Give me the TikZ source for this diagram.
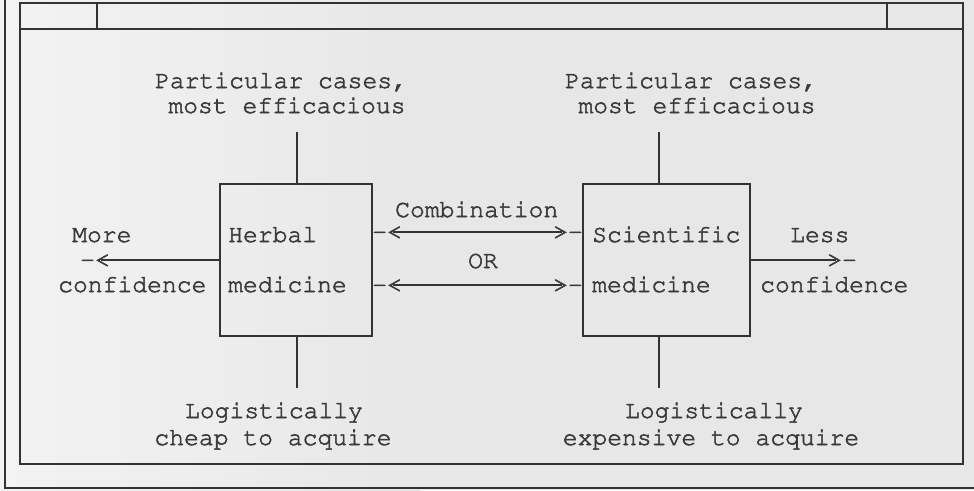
\documentclass[tikz,border=0pt]{standalone}
\usepackage[T1]{fontenc}
\newcommand{\courfont}{\fontencoding{T1}\fontfamily{pcr}\fontseries{m}\fontshape{n}\fontsize{24.7}{25}\selectfont\special{pdf:literal direct 2 Tr 0.55 w}}
\definecolor{ink}{HTML}{333333}
\definecolor{txt}{HTML}{3A3A3A}
\definecolor{paper}{HTML}{E7E7E7}
\definecolor{paperlight}{HTML}{F3F3F3}
\begin{document}
\begin{tikzpicture}[x=1pt,y=-1pt,
  frame/.style={draw=ink, line width=1.6pt},
  box/.style={draw=ink, line width=1.6pt, rectangle, inner sep=0pt},
  lbl/.style={inner sep=0pt, text=txt, font=\courfont},
  tipmark/.style={lbl, text height=14.6pt, text depth=0pt},
  conn/.style={draw=ink, line width=1.4pt},
  stem/.style={draw=ink, line width=1.4pt}
]
\useasboundingbox (0,0) rectangle (974,490);
\shade[left color=paperlight, right color=paper] (0,0) rectangle (420,490);
\fill[paper] (420,0) rectangle (974,490);

% frame
\draw[frame] (20,3) rectangle (963,464);
\draw[frame] (20,29) -- (963,29);
\draw[frame] (97,3) -- (97,29);
\draw[frame] (887,3) -- (887,29);
\draw[frame] (5,0) -- (5,488) -- (974,488);

% boxes
\node[box, minimum width=152pt, minimum height=152pt] (herbal) at (296,260) {};
\node[box, minimum width=167pt, minimum height=152pt] (sci) at (666.5,260) {};

% box texts
\node[lbl, anchor=base west] (h1) at (228,242) {Herbal};
\node[lbl, anchor=base west] (h2) at (228,292) {medicine};
\node[lbl, anchor=base west] (s1) at (592,242) {Scientific};
\node[lbl, anchor=base west] (s2) at (592,292) {medicine};

% side labels
\node[lbl, anchor=base west] (more) at (72,242) {More};
\node[lbl, anchor=base west] (confL) at (58,292) {confidence};
\node[lbl, anchor=base west] (less) at (790,242) {Less};
\node[lbl, anchor=base west] (confR) at (760,292) {confidence};
\node[lbl, anchor=base west] (comb) at (395,217) {Combination};
\node[lbl, anchor=base west] (orl) at (468,268) {OR};

% top labels
\node[lbl, anchor=base] (tl1) at (281,88) {Particular cases,};
\node[lbl, anchor=base] (tl2) at (287,113) {most efficacious};
\node[lbl, anchor=base] (tr1) at (691,88) {Particular cases,};
\node[lbl, anchor=base] (tr2) at (697,113) {most efficacious};

% bottom labels
\node[lbl, anchor=base] (bl1) at (274,418) {Logistically};
\node[lbl, anchor=base] (bl2) at (273,445) {cheap to acquire};
\node[lbl, anchor=base] (br1) at (714,418) {Logistically};
\node[lbl, anchor=base] (br2) at (711,445) {expensive to acquire};

% stem ends
\coordinate (tsL) at (297,132);
\coordinate (tsR) at (659,132);
\coordinate (bsL) at (297,388);
\coordinate (bsR) at (659,388);
\draw[stem] (tsL) -- (tsL |- herbal.north);
\draw[stem] (tsR) -- (tsR |- sci.north);
\draw[stem] (bsL) -- (bsL |- herbal.south);
\draw[stem] (bsR) -- (bsR |- sci.south);

% arrow marks (typed characters)
\node[tipmark, anchor=east] (mL) at (110,260) {-<};
\node[tipmark, anchor=west] (mR) at (827,260) {>-};
\node[tipmark, anchor=west] (c1l) at (372,232) {-<};
\node[tipmark, anchor=east] (c1r) at (583,232) {>-};
\node[tipmark, anchor=west] (c2l) at (372,285) {-<};
\node[tipmark, anchor=east] (c2r) at (583,285) {>-};

% connectors
\draw[conn, shorten >=-9pt] (herbal.west) -- (mL.east);
\draw[conn, shorten >=-9pt] (sci.east) -- (mR.west);
\draw[conn, shorten <=-9pt, shorten >=-9pt] (c1l.east) -- (c1r.west);
\draw[conn, shorten <=-9pt, shorten >=-9pt] (c2l.east) -- (c2r.west);
\end{tikzpicture}
\end{document}
